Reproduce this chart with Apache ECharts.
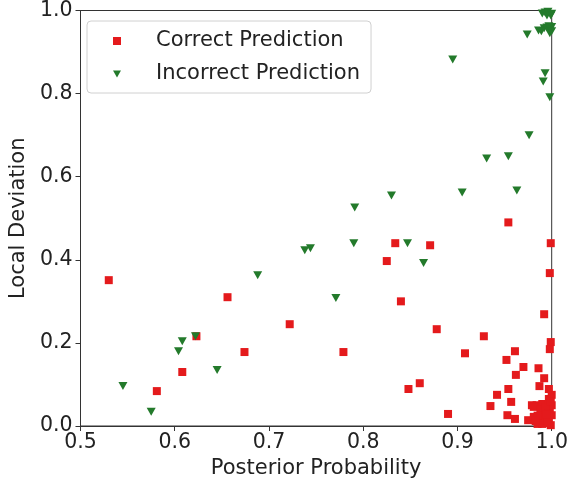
<!DOCTYPE html>
<html><head><meta charset="utf-8">
<script src="https://cdn.jsdelivr.net/npm/echarts@6/dist/echarts.min.js"></script>
<style>html,body{margin:0;padding:0;background:#fff}#c{width:571px;height:484px}</style>
</head><body><div id="c"></div>
<script>
const seriesNames = ['Correct Prediction', 'Incorrect Prediction'];
const xAxisTitle = 'Posterior Probability';
const yAxisTitle = 'Local Deviation';

// Correct prediction points [posterior, local deviation]
const correctPoints = [
  [0.530,0.351],[0.581,0.084],[0.608,0.130],[0.623,0.216],[0.656,0.310],[0.674,0.178],
  [0.722,0.245],[0.779,0.178],[0.825,0.397],[0.834,0.440],[0.840,0.300],[0.871,0.435],
  [0.878,0.233],[0.848,0.089],[0.860,0.103],[0.890,0.029],[0.908,0.175],[0.928,0.216],
  [0.935,0.048],[0.942,0.075],[0.954,0.490],[0.952,0.159],[0.961,0.180],[0.954,0.089],
  [0.957,0.058],[0.953,0.026],[0.961,0.017],[0.970,0.142],[0.962,0.123],[0.986,0.139],
  [0.992,0.115],[0.992,0.269],[0.987,0.096],[0.997,0.089],[0.999,0.440],[0.998,0.368],
  [0.999,0.202],[0.998,0.185],[0.975,0.014],[0.981,0.022],[0.979,0.050],[0.984,0.050],
  [0.990,0.053],[0.995,0.053],[0.997,0.065],[0.991,0.031],[0.995,0.019],[0.997,0.010],
  [0.993,0.007],[0.998,0.038],[1.000,0.026],[0.999,0.002],[0.990,0.014],[0.985,0.005],
  [1.000,0.050],[1.000,0.075],[0.981,0.046],[0.988,0.040],[0.993,0.045],[0.997,0.030],
  [0.985,0.025],[0.990,0.005],[0.996,0.012],[0.999,0.060],[0.983,0.012],[0.994,0.028]
];

// Incorrect prediction points [posterior, local deviation]
const incorrectPoints = [
  [0.545,0.096],[0.575,0.034],[0.604,0.180],[0.608,0.204],[0.622,0.216],[0.645,0.135],
  [0.688,0.363],[0.738,0.423],[0.744,0.428],[0.771,0.308],[0.790,0.440],[0.791,0.526],
  [0.830,0.555],[0.847,0.440],[0.864,0.392],[0.895,0.882],[0.905,0.562],[0.931,0.644],
  [0.954,0.649],[0.963,0.567],[0.976,0.700],[0.974,0.942],[0.986,0.952],[0.992,0.957],
  [0.995,0.959],[0.998,0.952],[0.998,0.945],[0.990,0.993],[0.995,0.988],[0.999,0.988],
  [0.993,0.995],[0.993,0.849],[0.991,0.829],[0.998,0.791],[0.989,0.950],[1.000,0.960],
  [0.997,0.962],[1.000,0.950],[0.996,0.997],[1.000,0.992]
];

const xMin = 0.5, xMax = 1.0, xStep = 0.1;
const yMin = 0.0, yMax = 1.0, yStep = 0.2;

const RED = '#e41a1c', GREEN = '#237a2b', INK = '#222';
const FONT = 'DejaVu Sans';
const downTri = 'path://M0,0 L10,0 L5,8.5 Z';

const chart = echarts.init(document.getElementById('c'), null, {renderer: 'canvas'});
chart.setOption({
  animation: false,
  backgroundColor: '#fff',
  grid: {left: 76, right: 16, top: 10, bottom: 58, show: true, borderColor: '#333', borderWidth: 1, backgroundColor: 'transparent', containLabel: false},
  xAxis: {
    type: 'value', min: xMin, max: xMax, interval: xStep,
    name: xAxisTitle, nameLocation: 'middle', nameGap: 30,
    nameTextStyle: {fontFamily: FONT, fontSize: 21, color: INK},
    axisLine: {show: true, lineStyle: {color: '#333', width: 1}},
    axisTick: {show: true, inside: false, length: 5, lineStyle: {color: '#333'}},
    axisLabel: {fontFamily: FONT, fontSize: 20.5, color: INK, margin: 6, formatter: v => v.toFixed(1)},
    splitLine: {show: false}
  },
  yAxis: {
    type: 'value', min: yMin, max: yMax, interval: yStep,
    name: yAxisTitle, nameLocation: 'middle', nameGap: 50,
    nameTextStyle: {fontFamily: FONT, fontSize: 21, color: INK},
    axisLine: {show: true, lineStyle: {color: '#333', width: 1}},
    axisTick: {show: true, inside: false, length: 5, lineStyle: {color: '#333'}},
    axisLabel: {fontFamily: FONT, fontSize: 20.5, color: INK, margin: 8, formatter: v => v.toFixed(1)},
    splitLine: {show: false}
  },
  legend: {
    orient: 'vertical', left: 87, top: 21,
    padding: [8, 11, 7, 26], itemGap: 9,
    itemWidth: 8, itemHeight: 8,
    backgroundColor: '#fff', borderColor: '#d0d0d0', borderWidth: 1, borderRadius: 4,
    textStyle: {fontFamily: FONT, fontSize: 21, color: INK, lineHeight: 24, padding: [0, 0, 0, 30]},
    data: [
      {name: seriesNames[0], icon: 'rect'},
      {name: seriesNames[1], icon: downTri}
    ]
  },
  series: [
    {name: seriesNames[0], type: 'scatter', data: correctPoints, symbol: 'rect', symbolSize: 8,
     itemStyle: {color: RED, opacity: 1}, clip: true},
    {name: seriesNames[1], type: 'scatter', data: incorrectPoints, symbol: downTri, symbolSize: [9, 8],
     itemStyle: {color: GREEN, opacity: 1}, clip: true}
  ]
});
</script></body></html>
